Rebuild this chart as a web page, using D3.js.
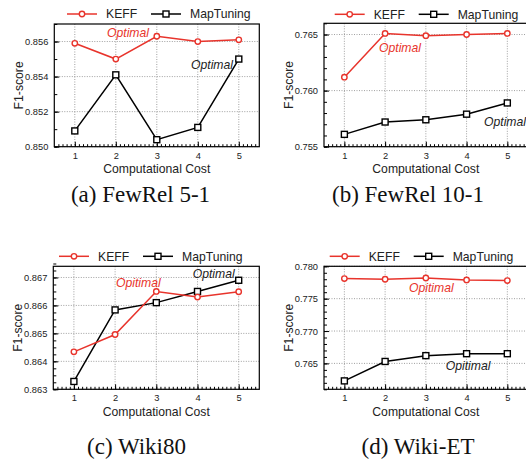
<!doctype html>
<html>
<head>
<meta charset="utf-8">
<script src="https://d3js.org/d3.v7.min.js"></script>
<style>
body { margin: 0; background: #fff; }
svg { display: block; }
</style>
</head>
<body>
<svg width="526" height="464"></svg>
<script>
// ---- data ----
var cost = [1, 2, 3, 4, 5]

var keff_fewrel51 = [0.8559, 0.8550, 0.8563, 0.8560, 0.8561]
var map_fewrel51 = [0.8509, 0.8541, 0.8504, 0.8511, 0.8550]

var keff_fewrel101 = [0.7612, 0.7651, 0.7649, 0.7650, 0.7651]
var map_fewrel101 = [0.7561, 0.7572, 0.7574, 0.7579, 0.7589]

var keff_wiki80 = [0.86434, 0.86496, 0.86650, 0.86630, 0.86649]
var map_wiki80 = [0.86328, 0.86584, 0.86610, 0.86650, 0.86690]

var keff_wikiet = [0.7781, 0.7780, 0.7782, 0.7779, 0.7778]
var map_wikiet = [0.7623, 0.7653, 0.7662, 0.7665, 0.7665]

var y_ticks_fewrel51 = [0.850, 0.852, 0.854, 0.856]
var y_ticks_fewrel101 = [0.755, 0.760, 0.765]
var y_ticks_wiki80 = [0.863, 0.864, 0.865, 0.866, 0.867]
var y_ticks_wikiet = [0.765, 0.770, 0.775, 0.780]

var captions = ["(a) FewRel 5-1", "(b) FewRel 10-1", "(c) Wiki80", "(d) Wiki-ET"]
var series_names = ["KEFF", "MapTuning"]

var red = "#e8342c"
var svg = d3.select("svg")
var font = "Liberation Sans, Arial, Helvetica, sans-serif"

var panels = [
    { keff: keff_fewrel51, map: map_fewrel51, ticks: y_ticks_fewrel51, ydom: [0.850, 0.857], minor: 0.001, fmt: ".3f",
      left: 54.3, right: 259.3, top: 24, bottom: 146.7, legend: [67, 14],
      cap: [140.5, 202], red_lbl: [107, 37, "Optimal"], blk_lbl: [191, 68.5, "Optimal"] },
    { keff: keff_fewrel101, map: map_fewrel101, ticks: y_ticks_fewrel101, ydom: [0.755, 0.766], minor: 0.001, fmt: ".3f",
      left: 324, right: 527.7, top: 23.3, bottom: 146.7, legend: [334.7, 14.3],
      cap: [408, 202], red_lbl: [379, 52, "Optimal"], blk_lbl: [484, 125.5, "Optimal"] },
    { keff: keff_wiki80, map: map_wiki80, ticks: y_ticks_wiki80, ydom: [0.863, 0.8674], minor: 0.00025, fmt: ".3f",
      left: 53.3, right: 259.3, top: 266.3, bottom: 389.3, legend: [59, 256.3],
      cap: [136.5, 453.5], red_lbl: [116, 286.5, "Opitimal"], blk_lbl: [192.7, 278, "Optimal"] },
    { keff: keff_wikiet, map: map_wikiet, ticks: y_ticks_wikiet, ydom: [0.761, 0.780], minor: 0.001, fmt: ".3f",
      left: 324, right: 527.7, top: 266.3, bottom: 389.3, legend: [329.7, 256.3],
      cap: [418, 453.5], red_lbl: [409, 292, "Opitimal"], blk_lbl: [445.7, 370, "Opitimal"] }
]

function draw_panel(p, idx) {
    var x = d3.scaleLinear().domain([0.5, 5.5]).range([p.left, p.right])
    var y = d3.scaleLinear().domain(p.ydom).range([p.bottom, p.top])
    var g = svg.append("g")

    // dotted grid
    g.selectAll(".vgrid").data(cost).enter().append("line")
        .attr("x1", function(d) { return x(d) }).attr("x2", function(d) { return x(d) })
        .attr("y1", p.top).attr("y2", p.bottom)
        .attr("stroke", "#888").attr("stroke-width", 0.8).attr("stroke-dasharray", "1,1.5")
    g.selectAll(".hgrid").data(p.ticks).enter().append("line")
        .attr("x1", p.left).attr("x2", p.right)
        .attr("y1", function(d) { return y(d) }).attr("y2", function(d) { return y(d) })
        .attr("stroke", "#888").attr("stroke-width", 0.8).attr("stroke-dasharray", "1,1.5")

    // minor ticks
    var xminor = d3.range(6, 55).map(function(d) { return d / 10 })
    g.append("g").attr("transform", "translate(0," + p.bottom + ")")
        .call(d3.axisBottom(x).tickValues(xminor).tickSize(-2.5).tickFormat(""))
        .call(function(a) { a.select(".domain").remove() })
    var n = Math.round((p.ydom[1] - p.ydom[0]) / p.minor)
    var yminor = d3.range(0, n + 1).map(function(i) { return p.ydom[0] + i * p.minor })
    g.append("g").attr("transform", "translate(" + p.left + ",0)")
        .call(d3.axisLeft(y).tickValues(yminor).tickSize(-3).tickFormat(""))
        .call(function(a) { a.select(".domain").remove() })

    // major ticks + labels
    var xa = g.append("g").attr("transform", "translate(0," + p.bottom + ")")
        .call(d3.axisBottom(x).tickValues(cost).tickSize(-5).tickPadding(5.5).tickFormat(d3.format("d")))
    var ya = g.append("g").attr("transform", "translate(" + p.left + ",0)")
        .call(d3.axisLeft(y).tickValues(p.ticks).tickSize(-5).tickPadding(6).tickFormat(d3.format(p.fmt)))
    ;[xa, ya].forEach(function(a) {
        a.select(".domain").remove()
        a.selectAll("line").attr("stroke", "#000")
        a.selectAll("text").attr("font-family", font).attr("font-size", "9.3px").attr("fill", "#222")
    })
    g.selectAll(".tick line").attr("stroke", "#000")

    // frame
    g.append("rect").attr("x", p.left).attr("y", p.top)
        .attr("width", p.right - p.left).attr("height", p.bottom - p.top)
        .attr("fill", "none").attr("stroke", "#000").attr("stroke-width", 1.2)

    // axis titles
    g.append("text").attr("x", (p.left + p.right) / 2).attr("y", p.bottom + 26.5)
        .attr("text-anchor", "middle").attr("font-family", font).attr("font-size", "12.2px").attr("fill", "#222")
        .text("Computational Cost")
    g.append("text").attr("transform", "rotate(-90)")
        .attr("x", -(p.top + p.bottom) / 2).attr("y", p.left - 31.5)
        .attr("text-anchor", "middle").attr("font-family", font).attr("font-size", "12.2px").attr("fill", "#222")
        .text("F1-score")

    // series
    var line = d3.line().x(function(d, i) { return x(cost[i]) }).y(function(d) { return y(d) })
    g.append("path").datum(p.map).attr("d", line).attr("fill", "none").attr("stroke", "#000").attr("stroke-width", 1.5)
    g.append("path").datum(p.keff).attr("d", line).attr("fill", "none").attr("stroke", red).attr("stroke-width", 1.5)
    g.selectAll(".sq").data(p.map).enter().append("rect")
        .attr("x", function(d, i) { return x(cost[i]) - 3 }).attr("y", function(d) { return y(d) - 3 })
        .attr("width", 6).attr("height", 6)
        .attr("fill", "#fff").attr("stroke", "#000").attr("stroke-width", 1.4)
    g.selectAll(".ci").data(p.keff).enter().append("circle")
        .attr("cx", function(d, i) { return x(cost[i]) }).attr("cy", function(d) { return y(d) })
        .attr("r", 2.7).attr("fill", "#fff").attr("stroke", red).attr("stroke-width", 1.4)

    // annotations
    g.append("text").attr("x", p.red_lbl[0]).attr("y", p.red_lbl[1])
        .attr("font-family", font).attr("font-style", "italic").attr("font-size", "12.2px").attr("fill", red)
        .text(p.red_lbl[2])
    g.append("text").attr("x", p.blk_lbl[0]).attr("y", p.blk_lbl[1])
        .attr("font-family", font).attr("font-style", "italic").attr("font-size", "12.2px").attr("fill", "#222")
        .text(p.blk_lbl[2])

    // legend
    var lx = p.legend[0], ly = p.legend[1]
    var lg = g.append("g")
    lg.append("line").attr("x1", lx).attr("x2", lx + 30).attr("y1", ly).attr("y2", ly)
        .attr("stroke", red).attr("stroke-width", 1.5)
    lg.append("circle").attr("cx", lx + 15).attr("cy", ly).attr("r", 2.7)
        .attr("fill", "#fff").attr("stroke", red).attr("stroke-width", 1.4)
    lg.append("text").attr("x", lx + 39).attr("y", ly + 4.3)
        .attr("font-family", font).attr("font-size", "12.2px").attr("fill", "#222").text(series_names[0])
    lg.append("line").attr("x1", lx + 84).attr("x2", lx + 114).attr("y1", ly).attr("y2", ly)
        .attr("stroke", "#000").attr("stroke-width", 1.5)
    lg.append("rect").attr("x", lx + 96).attr("y", ly - 3).attr("width", 6).attr("height", 6)
        .attr("fill", "#fff").attr("stroke", "#000").attr("stroke-width", 1.4)
    lg.append("text").attr("x", lx + 123).attr("y", ly + 4.3)
        .attr("font-family", font).attr("font-size", "12.2px").attr("fill", "#222").text(series_names[1])

    // caption
    g.append("text").attr("x", p.cap[0]).attr("y", p.cap[1])
        .attr("text-anchor", "middle").attr("font-family", "Liberation Serif, Times New Roman, serif")
        .attr("font-size", "23px").attr("fill", "#111")
        .text(captions[idx])
}

panels.forEach(draw_panel)
</script>
</body>
</html>
